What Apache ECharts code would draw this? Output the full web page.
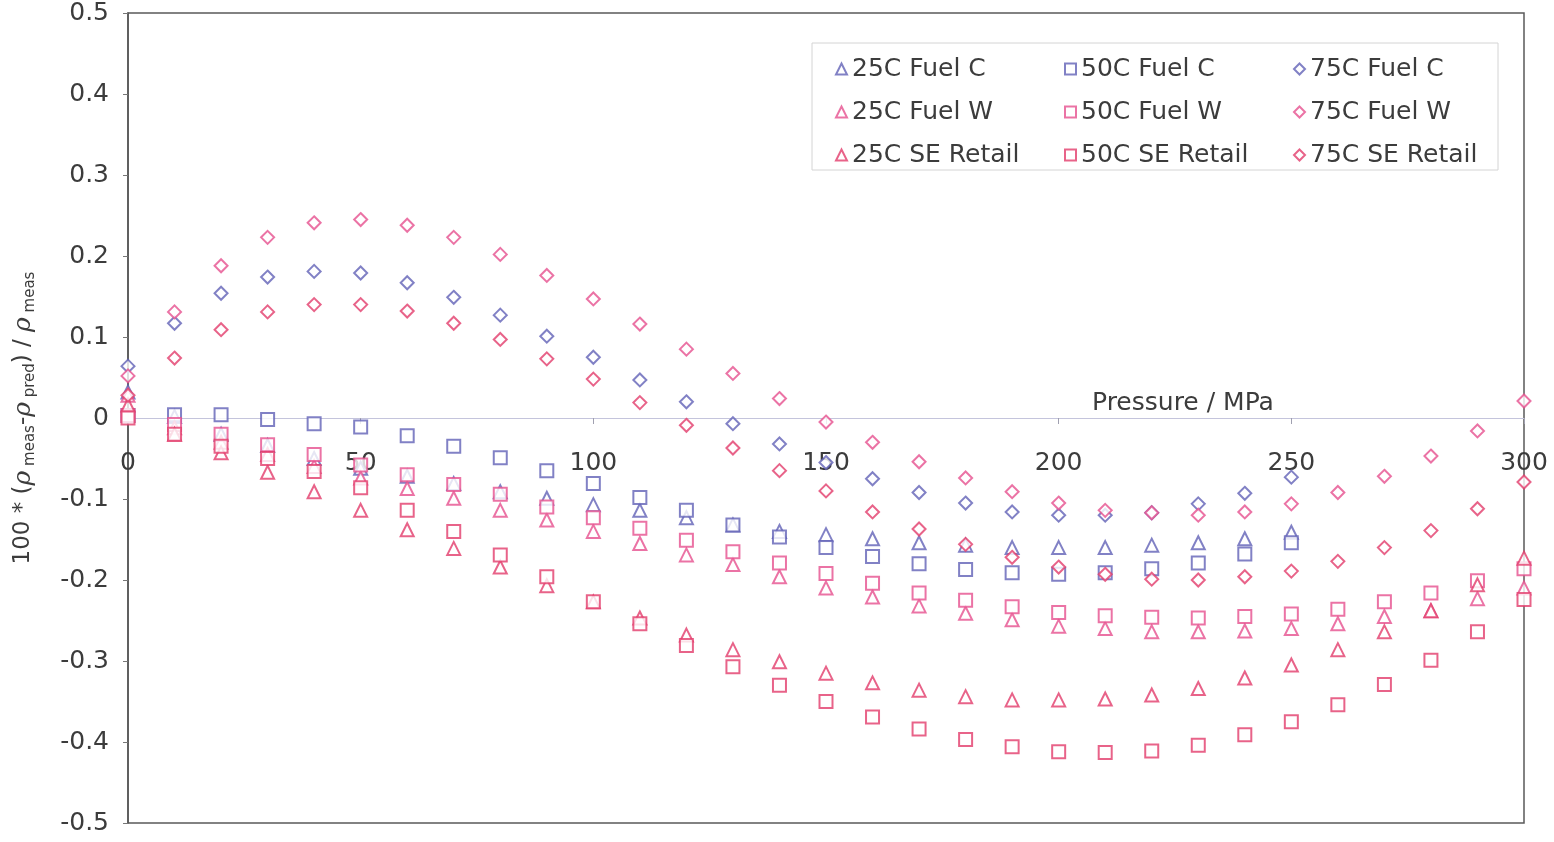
<!DOCTYPE html>
<html>
<head>
<meta charset="utf-8">
<script src="https://cdn.jsdelivr.net/npm/echarts@6/dist/echarts.min.js"></script>
<style>
  html, body { margin: 0; padding: 0; background: #ffffff; }
  #chart { width: 1554px; height: 842px; }
</style>
</head>
<body>
<div id="chart"></div>
<script>
// Pressure steps (MPa)
const pressure = [0, 10, 20, 30, 40, 50, 60, 70, 80, 90, 100, 110, 120, 130, 140, 150,
  160, 170, 180, 190, 200, 210, 220, 230, 240, 250, 260, 270, 280, 290, 300];

// 100*(rho_meas - rho_pred)/rho_meas, Fuel C (measured up to 250 MPa)
const fuelC25 = [0.032, 0.002, -0.020, -0.034, -0.050, -0.062, -0.072, -0.081, -0.091, -0.099,
  -0.107, -0.114, -0.123, -0.132, -0.140, -0.144, -0.149, -0.154, -0.157, -0.160, -0.160,
  -0.160, -0.157, -0.154, -0.149, -0.141];
const fuelC50 = [0.003, 0.004, 0.004, -0.002, -0.007, -0.011, -0.022, -0.035, -0.049, -0.065,
  -0.081, -0.098, -0.114, -0.132, -0.147, -0.160, -0.171, -0.180, -0.187, -0.191, -0.193,
  -0.191, -0.186, -0.179, -0.168, -0.154];
const fuelC75 = [0.064, 0.117, 0.154, 0.174, 0.181, 0.179, 0.167, 0.149, 0.127, 0.101,
  0.075, 0.047, 0.020, -0.007, -0.032, -0.055, -0.075, -0.092, -0.105, -0.116, -0.120,
  -0.120, -0.117, -0.106, -0.093, -0.073];

// Fuel W
const fuelW25 = [0.028, -0.012, -0.030, -0.045, -0.060, -0.074, -0.087, -0.099, -0.114, -0.126,
  -0.140, -0.155, -0.169, -0.181, -0.196, -0.210, -0.221, -0.232, -0.241, -0.249, -0.257,
  -0.260, -0.264, -0.264, -0.263, -0.260, -0.254, -0.245, -0.238, -0.223, -0.210];
const fuelW50 = [0.003, -0.008, -0.020, -0.033, -0.045, -0.058, -0.070, -0.082, -0.094, -0.110,
  -0.123, -0.136, -0.151, -0.165, -0.179, -0.192, -0.204, -0.216, -0.225, -0.233, -0.240,
  -0.244, -0.246, -0.247, -0.245, -0.242, -0.236, -0.227, -0.216, -0.201, -0.186];
const fuelW75 = [0.052, 0.131, 0.188, 0.223, 0.241, 0.245, 0.238, 0.223, 0.202, 0.176,
  0.147, 0.116, 0.085, 0.055, 0.024, -0.005, -0.030, -0.054, -0.074, -0.091, -0.105,
  -0.114, -0.117, -0.120, -0.116, -0.106, -0.092, -0.072, -0.047, -0.016, 0.021];

// SE Retail
const seRetail25 = [0.016, -0.020, -0.043, -0.067, -0.091, -0.114, -0.138, -0.161, -0.184, -0.207,
  -0.227, -0.247, -0.268, -0.286, -0.301, -0.315, -0.327, -0.336, -0.344, -0.348, -0.348,
  -0.347, -0.342, -0.334, -0.321, -0.305, -0.286, -0.264, -0.238, -0.206, -0.173];
const seRetail50 = [0.000, -0.020, -0.035, -0.050, -0.066, -0.086, -0.114, -0.140, -0.169, -0.196,
  -0.227, -0.254, -0.281, -0.307, -0.330, -0.350, -0.369, -0.384, -0.397, -0.406, -0.412,
  -0.413, -0.411, -0.404, -0.391, -0.375, -0.354, -0.329, -0.299, -0.264, -0.224];
const seRetail75 = [0.028, 0.074, 0.109, 0.131, 0.140, 0.140, 0.132, 0.117, 0.097, 0.073,
  0.048, 0.019, -0.009, -0.037, -0.065, -0.090, -0.116, -0.137, -0.156, -0.172, -0.184,
  -0.193, -0.199, -0.200, -0.196, -0.189, -0.177, -0.160, -0.139, -0.112, -0.079];

const xTicks = { min: 0, max: 300, interval: 50 };
const yTicks = { min: -0.5, max: 0.5, interval: 0.1 };

const BLUE = '#6262b6';
const PINK_W = '#e6508e';
const PINK_SE = '#e23c6c';
const FONT = 'DejaVu Sans';
const TEXT = '#3c3c3c';

// plot box geometry (px)
const GRID = { left: 128, right: 30, top: 13, bottom: 19 };
const PLOT_H = 842 - GRID.top - GRID.bottom;

function pairs(values) {
  return values.map((v, i) => [pressure[i], v]);
}

function makeSeries(name, values, symbol, color) {
  return {
    name: name,
    type: 'scatter',
    data: pairs(values),
    symbol: symbol,
    symbolSize: 13,
    itemStyle: { color: color, borderColor: color, borderWidth: 1.6 },
    emphasis: { disabled: true }
  };
}

const seriesList = [
  makeSeries('25C Fuel C', fuelC25, 'emptyTriangle', BLUE),
  makeSeries('50C Fuel C', fuelC50, 'emptyRect', BLUE),
  makeSeries('75C Fuel C', fuelC75, 'emptyDiamond', BLUE),
  makeSeries('25C Fuel W', fuelW25, 'emptyTriangle', PINK_W),
  makeSeries('50C Fuel W', fuelW50, 'emptyRect', PINK_W),
  makeSeries('75C Fuel W', fuelW75, 'emptyDiamond', PINK_W),
  makeSeries('25C SE Retail', seRetail25, 'emptyTriangle', PINK_SE),
  makeSeries('50C SE Retail', seRetail50, 'emptyRect', PINK_SE),
  makeSeries('75C SE Retail', seRetail75, 'emptyDiamond', PINK_SE)
];

function legendColumn(left, names) {
  return {
    orient: 'vertical',
    left: left,
    top: 49,
    itemWidth: 11,
    itemHeight: 11,
    itemGap: 13,
    z: 10,
    data: names,
    textStyle: { fontFamily: FONT, fontSize: 25, color: TEXT, lineHeight: 26, padding: [4, 0, 0, 0] },
    selectedMode: false
  };
}

const chart = echarts.init(document.getElementById('chart'), null, { renderer: 'canvas' });

chart.setOption({
  animation: false,
  backgroundColor: '#ffffff',
  grid: {
    left: GRID.left, right: GRID.right, top: GRID.top, bottom: GRID.bottom,
    outerBoundsMode: 'none',
    containLabel: false,
    show: true, borderColor: '#5a5a5a', borderWidth: 1.5, backgroundColor: 'transparent'
  },
  graphic: [{
    type: 'rect',
    shape: { x: 812, y: 43, width: 686, height: 127 },
    style: { fill: '#ffffff', stroke: '#d4d4d4', lineWidth: 1 },
    z: 1
  }],
  legend: [
    legendColumn(830, ['25C Fuel C', '25C Fuel W', '25C SE Retail']),
    legendColumn(1059, ['50C Fuel C', '50C Fuel W', '50C SE Retail']),
    legendColumn(1288, ['75C Fuel C', '75C Fuel W', '75C SE Retail'])
  ],
  xAxis: {
    type: 'value',
    min: xTicks.min, max: xTicks.max, interval: xTicks.interval,
    // axis drawn through the middle of the box, i.e. along y = 0
    offset: -PLOT_H / 2,
    name: 'Pressure / MPa',
    nameLocation: 'end',
    nameGap: -432,
    nameTextStyle: { fontFamily: FONT, fontSize: 25, color: TEXT, align: 'left', verticalAlign: 'bottom', padding: [0, 0, 2, 0] },
    axisLine: { onZero: false, lineStyle: { color: '#c4c4dc', width: 1.2 } },
    axisTick: { show: true, length: 6, lineStyle: { color: '#a0a0b0' } },
    axisLabel: { fontFamily: FONT, fontSize: 25, color: TEXT, margin: 33 },
    splitLine: { show: false }
  },
  yAxis: {
    type: 'value',
    min: yTicks.min, max: yTicks.max, interval: yTicks.interval,
    name: '{a|100 * (}{r|ρ}{s| meas}{a|-}{r|ρ}{s| pred}{a|) / }{r|ρ}{s| meas}',
    nameLocation: 'middle',
    nameGap: 90,
    nameRotate: 90,
    nameTextStyle: {
      color: TEXT,
      rich: {
        a: { fontFamily: FONT, fontSize: 23, color: TEXT, lineHeight: 30, verticalAlign: 'middle' },
        r: { fontFamily: 'DejaVu Serif', fontStyle: 'italic', fontSize: 25, color: TEXT, lineHeight: 30, verticalAlign: 'middle' },
        s: { fontFamily: FONT, fontSize: 15, color: TEXT, lineHeight: 16, verticalAlign: 'bottom' }
      }
    },
    axisLine: { show: true, lineStyle: { color: '#555555', width: 1.5 } },
    axisTick: { show: true, length: 5, lineStyle: { color: '#777777' } },
    axisLabel: {
      fontFamily: FONT, fontSize: 25, color: TEXT, margin: 19,
      formatter: v => (Math.abs(v) < 1e-9 ? '0' : v.toFixed(1))
    },
    splitLine: { show: false }
  },
  series: seriesList
});
</script>
</body>
</html>
